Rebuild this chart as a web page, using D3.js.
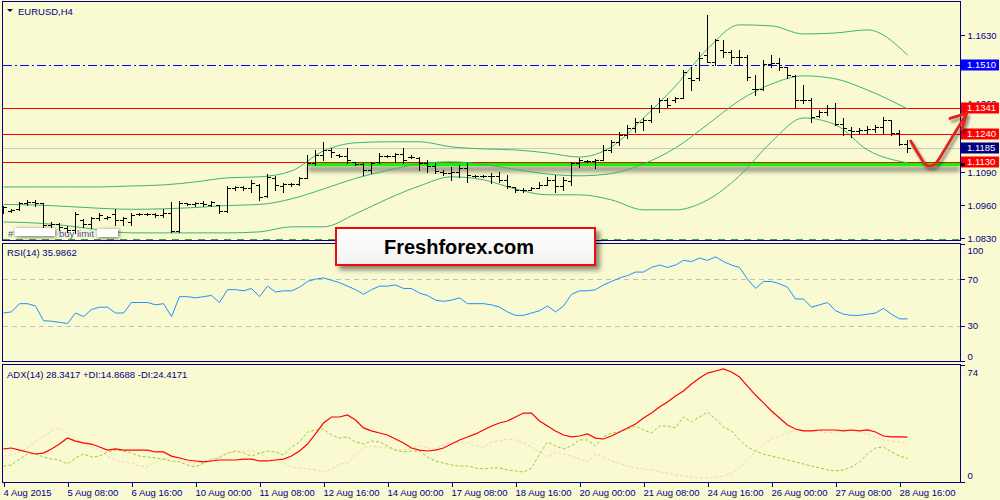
<!DOCTYPE html>
<html>
<head>
<meta charset="utf-8">
<script src="https://cdnjs.cloudflare.com/ajax/libs/d3/7.8.5/d3.min.js"></script>
<style>
  body { margin: 0; background: #fafad2; }
  svg { display: block; font-family: "Liberation Sans", Arial, sans-serif; }
</style>
</head>
<body>
<svg id="chart" width="1000" height="500"></svg>
<script>
// EURUSD H4, 4 Aug - 28 Aug 2015 (one entry per bar)
var timeLabels = ["4 Aug 2015", "5 Aug 08:00", "6 Aug 16:00", "10 Aug 00:00", "11 Aug 08:00",
  "12 Aug 16:00", "14 Aug 00:00", "17 Aug 08:00", "18 Aug 16:00", "20 Aug 00:00",
  "21 Aug 08:00", "24 Aug 16:00", "26 Aug 00:00", "27 Aug 08:00", "28 Aug 16:00"];
var timeTickBars = [0, 8, 16, 24, 32, 40, 48, 56, 64, 72, 80, 88, 96, 104, 112];

var opens = [1.0941,1.0937,1.0945,1.0968,1.0972,1.0968,1.0881,1.0885,1.0870,1.0862,
  1.0901,1.0885,1.0909,1.0909,1.0925,1.0901,1.0893,1.0925,1.0925,1.0925,
  1.0921,1.0929,1.0858,1.0968,1.0964,1.0968,1.0960,1.0960,1.0937,1.1027,
  1.1031,1.1027,1.1039,1.0996,1.1067,1.1035,1.1043,1.1043,1.1067,1.1126,
  1.1157,1.1177,1.1157,1.1153,1.1130,1.1122,1.1098,1.1130,1.1153,1.1153,
  1.1161,1.1149,1.1145,1.1126,1.1114,1.1090,1.1086,1.1090,1.1106,1.1075,
  1.1075,1.1075,1.1075,1.1059,1.1031,1.1019,1.1019,1.1027,1.1039,1.1059,
  1.1035,1.1055,1.1126,1.1134,1.1134,1.1138,1.1177,1.1209,1.1236,1.1264,
  1.1287,1.1295,1.1342,1.1374,1.1374,1.1382,1.1461,1.1461,1.1551,1.1524,
  1.1571,1.1563,1.1543,1.1543,1.1417,1.1417,1.1516,1.1520,1.1504,1.1469,
  1.1374,1.1374,1.1311,1.1327,1.1342,1.1279,1.1256,1.1252,1.1256,1.1260,
  1.1268,1.1295,1.1244,1.1201];
var highs = [1.0956,1.0945,1.0972,1.0980,1.0980,1.0968,1.0893,1.0889,1.0878,1.0933,
  1.0905,1.0913,1.0929,1.0917,1.0945,1.0913,1.0929,1.0929,1.0929,1.0929,
  1.0945,1.0972,1.0976,1.0968,1.0972,1.0976,1.0976,1.0960,1.1035,1.1035,
  1.1035,1.1059,1.1043,1.1082,1.1075,1.1047,1.1047,1.1071,1.1157,1.1177,
  1.1209,1.1185,1.1161,1.1185,1.1130,1.1126,1.1130,1.1165,1.1157,1.1165,
  1.1185,1.1157,1.1149,1.1138,1.1126,1.1098,1.1110,1.1118,1.1126,1.1078,
  1.1078,1.1086,1.1090,1.1078,1.1031,1.1027,1.1031,1.1051,1.1071,1.1078,
  1.1071,1.1130,1.1145,1.1138,1.1142,1.1197,1.1216,1.1248,1.1276,1.1303,
  1.1303,1.1354,1.1382,1.1382,1.1386,1.1492,1.1504,1.1563,1.1709,1.1614,
  1.1610,1.1571,1.1571,1.1551,1.1473,1.1532,1.1551,1.1539,1.1504,1.1473,
  1.1433,1.1382,1.1335,1.1354,1.1362,1.1303,1.1268,1.1264,1.1272,1.1276,
  1.1307,1.1295,1.1256,1.1216];
var lows = [1.0929,1.0933,1.0941,1.0960,1.0956,1.0874,1.0874,1.0862,1.0854,1.0850,
  1.0874,1.0870,1.0901,1.0905,1.0881,1.0881,1.0881,1.0921,1.0921,1.0913,
  1.0913,1.0854,1.0854,1.0960,1.0956,1.0956,1.0956,1.0929,1.0933,1.1019,
  1.1019,1.1012,1.0980,1.0992,1.1019,1.1012,1.1035,1.1039,1.1067,1.1118,
  1.1138,1.1149,1.1149,1.1126,1.1118,1.1078,1.1086,1.1126,1.1149,1.1130,
  1.1126,1.1145,1.1098,1.1090,1.1086,1.1078,1.1059,1.1071,1.1051,1.1071,
  1.1071,1.1047,1.1051,1.1027,1.1012,1.1012,1.1019,1.1027,1.1039,1.1012,
  1.1019,1.1039,1.1110,1.1130,1.1106,1.1138,1.1169,1.1197,1.1224,1.1248,
  1.1256,1.1287,1.1327,1.1346,1.1366,1.1382,1.1413,1.1453,1.1524,1.1512,
  1.1543,1.1520,1.1512,1.1453,1.1394,1.1413,1.1504,1.1492,1.1461,1.1342,
  1.1362,1.1287,1.1307,1.1315,1.1276,1.1236,1.1228,1.1244,1.1244,1.1248,
  1.1244,1.1236,1.1197,1.1169];
var closes = [1.0952,1.0941,1.0968,1.0972,1.0968,1.0881,1.0885,1.0874,1.0862,1.0925,
  1.0885,1.0909,1.0921,1.0913,1.0901,1.0909,1.0921,1.0925,1.0925,1.0921,
  1.0929,1.0858,1.0968,1.0964,1.0968,1.0964,1.0972,1.0937,1.1027,1.1031,
  1.1027,1.1047,1.0992,1.1071,1.1039,1.1043,1.1043,1.1067,1.1126,1.1157,
  1.1177,1.1169,1.1153,1.1138,1.1122,1.1098,1.1126,1.1153,1.1153,1.1161,
  1.1138,1.1149,1.1126,1.1114,1.1094,1.1086,1.1090,1.1106,1.1078,1.1075,
  1.1075,1.1075,1.1059,1.1035,1.1019,1.1019,1.1027,1.1039,1.1059,1.1035,
  1.1059,1.1126,1.1138,1.1134,1.1138,1.1177,1.1209,1.1236,1.1264,1.1287,
  1.1295,1.1342,1.1374,1.1354,1.1382,1.1484,1.1453,1.1539,1.1524,1.1610,
  1.1563,1.1543,1.1543,1.1465,1.1417,1.1516,1.1520,1.1504,1.1473,1.1374,
  1.1374,1.1307,1.1327,1.1342,1.1279,1.1264,1.1252,1.1256,1.1260,1.1268,
  1.1295,1.1244,1.1201,1.1185];

// Bollinger bands read at every 4th bar
var bbIndex = [0,4,8,12,16,20,24,28,32,36,40,44,48,52,56,60,64,68,72,76,80,84,88,92,96,100,104,108,113];
var bbUpper = [1.1031,1.1031,1.1031,1.1031,1.1035,1.1039,1.1051,1.1067,1.1071,1.1094,
  1.1173,1.1205,1.1209,1.1209,1.1189,1.1181,1.1177,1.1165,1.1149,1.1189,
  1.1303,1.1429,1.1575,1.1670,1.1666,1.1634,1.1638,1.1650,1.1551];
var bbMiddle = [1.0962,1.0960,1.0954,1.0947,1.0943,1.0945,1.0950,1.0958,1.0962,1.0984,
  1.1023,1.1065,1.1096,1.1122,1.1130,1.1120,1.1100,1.1082,1.1075,1.1084,
  1.1122,1.1185,1.1277,1.1372,1.1437,1.1469,1.1457,1.1413,1.1339];
var bbLower = [1.0893,1.0889,1.0878,1.0862,1.0850,1.0850,1.0850,1.0850,1.0854,1.0874,
  1.0874,1.0925,1.0984,1.1035,1.1071,1.1059,1.1023,1.1000,1.1000,1.0980,
  1.0941,1.0941,1.0980,1.1075,1.1209,1.1303,1.1276,1.1177,1.1126];

var rsi = [41,42,49,49,47,34.5,34,33,32,41, 38,44,46,46,41,41,50,50,50,48,
  49,38,55,55,54,55,56,50,61,61, 60,62,55,64,59,60,60,63,68,70,
  71,69,67,64,61,57,61,64,64,65, 62,62,58,56,52,51,52,54,49,49,
  49,48,46,42,39,39,41,43,47,42, 47,57,60,60,61,65,68,71,73,76,
  76,80,82,80,82,86,85,88,86,89, 85,82,80,70,62,68,68,66,63,53,
  53,46,48,50,43,40,39,39,40,41, 45,40,36,35.99];

var adx = [20.9,21.5,20.2,19.0,17.7,18.3,20.9,24.0,27.8,25.9, 24.7,24.0,22.1,20.2,20.9,20.2,20.2,20.2,20.2,19.0,
  19.0,16.4,15.2,13.9,13.3,12.7,13.3,13.9,13.9,13.9, 14.5,14.5,13.3,13.3,13.9,14.5,16.4,19.6,24.0,30.4,
  37.3,41.1,41.1,42.4,39.2,34.2,32.3,31.0,29.7,27.2, 24.7,21.5,20.2,19.6,20.2,21.5,24.0,26.6,28.5,30.4,
  32.9,35.4,37.3,38.6,41.1,43.6,43.6,38.6,35.4,32.3, 29.7,28.5,29.1,30.4,27.8,27.2,29.1,31.6,34.2,36.7,
  40.5,43.6,47.4,50.6,54.4,57.6,62.0,65.8,68.9,70.2, 71.5,69.6,66.4,60.7,55.0,50.0,44.9,40.5,36.1,33.5,
  32.3,32.3,32.9,32.9,32.9,32.3,32.9,32.3,32.9,31.6, 29.1,28.5,28.5,28.34];
var plusDI = [10.1,10.8,14.5,17.7,17.7,15.8,14.5,13.9,11.4,15.2, 17.7,15.8,16.4,19.0,20.2,19.6,18.3,16.4,15.8,15.2,
  14.5,13.3,12.7,10.8,9.5,12.0,13.9,15.2,18.3,19.6, 18.3,16.4,18.3,19.6,19.0,17.1,22.1,25.3,31.6,32.9,
  33.5,29.7,27.8,28.5,25.3,24.0,25.9,25.3,22.8,20.2, 19.0,19.6,19.6,15.8,13.3,12.0,10.8,10.1,10.1,8.9,
  8.2,8.9,8.9,7.6,7.0,6.3,8.9,17.7,25.3,22.8, 20.9,22.8,26.6,26.6,22.8,28.5,31.0,31.6,33.5,35.4,
  32.9,31.0,35.4,35.4,34.2,41.1,38.0,41.1,44.3,39.8, 34.8,32.3,26.6,22.1,19.6,17.7,16.4,15.2,13.9,12.7,
  11.4,10.1,8.9,7.6,7.0,7.6,9.5,12.7,17.7,21.5, 22.1,19.0,16.4,14.87];
var minusDI = [16.4,17.1,19.0,21.5,25.3,29.1,32.3,34.2,31.0,26.6, 24.0,22.1,20.2,16.4,13.9,12.7,12.0,10.1,10.1,12.0,
  14.5,15.8,14.5,12.7,12.0,12.7,14.5,16.4,18.3,19.0, 19.6,19.6,18.3,15.2,13.3,12.0,9.5,8.9,8.2,7.6,
  6.3,8.2,11.4,12.0,17.1,22.1,22.8,22.1,21.5,20.2, 20.2,21.5,22.8,21.5,20.9,23.4,25.3,24.7,24.7,22.8,
  22.1,25.3,25.9,27.2,26.6,24.7,22.1,19.0,15.8,19.0, 17.7,16.4,14.5,12.7,17.7,15.8,13.3,12.0,10.1,8.9,
  8.2,7.6,6.3,5.7,4.4,3.8,3.2,2.5,2.5,3.2, 3.8,5.7,8.9,13.9,19.6,24.0,27.2,29.1,31.0,32.9,
  32.9,31.6,32.3,31.0,31.6,32.9,32.9,31.6,30.4,28.5, 26.6,25.9,25.3,24.42];

var priceTicks = [1.1630, 1.1360, 1.1090, 1.0960, 1.0830];
var levelPrices = [1.1510, 1.1341, 1.1240, 1.1130];
var bidPrice = 1.1185;
var buyLimitPrice = 1.0826;
var supportPrice = 1.1130, supportFrom = 38;
// hand drawn arrow, in (bar, price)
var arrowPts = [[113.4,1.1212],[114.6,1.1149],[115.3,1.1118],[116.3,1.1118],[117.7,1.1181],[118.9,1.1244],[120.3,1.1315]];
var arrowHead = [[118.3,1.1301],[120.4,1.1321],[119.8,1.1258]];

var navy = "#000080";
var svg = d3.select("#chart");
svg.append("rect").attr("width", 1000).attr("height", 500).attr("fill", "#fafad2");

var x = d3.scaleLinear().domain([0, 119.5]).range([3.5, 959.5]);
var y = d3.scaleLinear().domain([1.0818, 1.1764]).range([241, 1]);
var yR = d3.scaleLinear().domain([0, 100]).range([361, 244]);
var yA = d3.scaleLinear().domain([0, 74]).range([482, 365]);

function px(v) { return Math.round(v) + 0.5; }

var defs = svg.append("defs");
function clip(id, y0, y1) {
  defs.append("clipPath").attr("id", id).append("rect")
    .attr("x", 3).attr("y", y0).attr("width", 957).attr("height", y1 - y0);
}
clip("cMain", 2, 240); clip("cRsi", 244, 361); clip("cAdx", 365, 482);
function shadow(id, dx, dy, sd, op) {
  defs.append("filter").attr("id", id).attr("filterUnits", "userSpaceOnUse")
      .attr("x", 0).attr("y", 0).attr("width", 1000).attr("height", 500)
    .append("feDropShadow").attr("dx", dx).attr("dy", dy).attr("stdDeviation", sd)
      .attr("flood-color", "#000").attr("flood-opacity", op);
}
shadow("shBox", 4, 4, 2.5, 0.45);
shadow("shArrow", 2, 3, 1.5, 0.45);
shadow("shGreen", 0, 5, 2.5, 0.55);
shadow("shWhite", 1, 1, 2, 0.6);

// ---------- main panel ----------
var gm = svg.append("g").attr("clip-path", "url(#cMain)");

gm.append("line").attr("x1", 3).attr("x2", 960)
  .attr("y1", px(y(buyLimitPrice))).attr("y2", px(y(buyLimitPrice)))
  .attr("stroke", "#33aa33").attr("stroke-dasharray", "7,6");

gm.append("line").attr("x1", 3).attr("x2", 960)
  .attr("y1", px(y(bidPrice))).attr("y2", px(y(bidPrice)))
  .attr("stroke", "#c8c8c8");

// support zone under the 1.1130 level
gm.append("rect")
  .attr("x", x(supportFrom)).attr("width", 960 - x(supportFrom))
  .attr("y", Math.round(y(supportPrice))).attr("height", 4)
  .attr("fill", "#00ff00")
  .attr("filter", "url(#shGreen)");

var levelColors = ["#0000ff", "#ff0000", "#ff0000", "#ff0000"];
gm.selectAll(".level")
  .data(levelPrices)
  .enter().append("line")
    .attr("class", "level")
    .attr("x1", 3).attr("x2", 960)
    .attr("y1", function(d) { return px(y(d)); })
    .attr("y2", function(d) { return px(y(d)); })
    .attr("stroke", function(d, i) { return levelColors[i]; })
    .attr("stroke-dasharray", function(d, i) { return i == 0 ? "9,3,2,3" : null; });

var bbLine = d3.line()
  .x(function(d, i) { return x(bbIndex[i]); })
  .y(function(d) { return y(d); })
  .curve(d3.curveMonotoneX);
[bbUpper, bbMiddle, bbLower].forEach(function(s) {
  gm.append("path").attr("d", bbLine(s))
    .attr("fill", "none").attr("stroke", "#3cb371").attr("stroke-width", 1);
});

gm.selectAll(".bar")
  .data(d3.range(opens.length))
  .enter().append("path")
    .attr("class", "bar")
    .attr("d", function(i) {
      var cx = x(i);
      return "M" + cx + "," + Math.round(y(highs[i])) + "V" + (Math.round(y(lows[i])) + 1) +
        "M" + (cx - 3.5) + "," + px(y(opens[i])) + "H" + cx +
        "M" + cx + "," + px(y(closes[i])) + "H" + (cx + 3.5);
    })
    .attr("stroke", "#000").attr("fill", "none").attr("shape-rendering", "crispEdges");

// order label (redacted ticket)
svg.append("text").attr("x", 8).attr("y", 237).attr("font-size", "9.5px")
  .attr("fill", "#4b4ba0").text("#");
svg.append("text").attr("x", 59).attr("y", 237).attr("font-size", "9.5px")
  .attr("fill", "#4b4ba0").text("buy limit");
svg.append("rect").attr("x", 15).attr("y", 228).attr("width", 40).attr("height", 8)
  .attr("fill", "#fff").attr("filter", "url(#shWhite)");
svg.append("rect").attr("x", 97).attr("y", 229).attr("width", 21).attr("height", 8)
  .attr("fill", "#fff").attr("filter", "url(#shWhite)");

// ---------- RSI panel ----------
var gr = svg.append("g").attr("clip-path", "url(#cRsi)");
gr.selectAll(".rsilvl")
  .data([70, 30])
  .enter().append("line")
    .attr("x1", 3).attr("x2", 960)
    .attr("y1", function(d) { return px(yR(d)); })
    .attr("y2", function(d) { return px(yR(d)); })
    .attr("stroke", "#c0c0c0").attr("stroke-dasharray", "5,4");
gr.append("path")
  .attr("d", d3.line().x(function(d, i) { return x(i); }).y(function(d) { return yR(d); })(rsi))
  .attr("fill", "none").attr("stroke", "#1e90ff").attr("stroke-width", 1);

// ---------- ADX panel ----------
var ga = svg.append("g").attr("clip-path", "url(#cAdx)");
var adxLine = d3.line().x(function(d, i) { return x(i); }).y(function(d) { return yA(d); });
ga.append("path").attr("d", adxLine(minusDI))
  .attr("fill", "none").attr("stroke", "#f5d3ad").attr("stroke-dasharray", "3,2");
ga.append("path").attr("d", adxLine(plusDI))
  .attr("fill", "none").attr("stroke", "#9acd32").attr("stroke-dasharray", "3,2");
ga.append("path").attr("d", adxLine(adx))
  .attr("fill", "none").attr("stroke", "#ff0000").attr("stroke-width", 1.2);

// ---------- frames ----------
[[1.5, 240.5], [243.5, 361.5], [364.5, 482.5]].forEach(function(p) {
  svg.append("rect").attr("x", 2.5).attr("y", p[0]).attr("width", 958).attr("height", p[1] - p[0])
    .attr("fill", "none").attr("stroke", navy).attr("shape-rendering", "crispEdges");
});

// ---------- axes ----------
function styleAxis(g) {
  g.select(".domain").remove();
  g.selectAll("line").attr("stroke", navy).attr("shape-rendering", "crispEdges");
  g.selectAll("text").attr("fill", navy).attr("font-size", "9.5px");
  g.attr("font-family", null).attr("font-size", null);
}

svg.append("g")
    .attr("transform", "translate(960.5,0)")
    .call(d3.axisRight(y).tickValues(priceTicks).tickSize(4).tickPadding(3).tickFormat(d3.format(".4f")))
    .call(styleAxis);

svg.append("g")
    .attr("transform", "translate(960.5,0)")
    .call(d3.axisRight(yR).tickValues([100, 70, 30, 0]).tickSize(4).tickPadding(3))
    .call(styleAxis)
  .selectAll("text")
    .attr("y", function(d) { return d == 100 ? 6 : (d == 0 ? -5 : 0); });

svg.append("g")
    .attr("transform", "translate(960.5,0)")
    .call(d3.axisRight(yA).tickValues([74, 0]).tickSize(4).tickPadding(3))
    .call(styleAxis)
  .selectAll("text")
    .attr("y", function(d) { return d == 74 ? 7 : -7; });

svg.append("g")
    .attr("transform", "translate(0,482.5)")
    .call(d3.axisBottom(x).tickValues(timeTickBars).tickSize(4).tickPadding(3)
      .tickFormat(function(d, i) { return timeLabels[i]; }))
    .call(styleAxis)
  .selectAll("text")
    .attr("text-anchor", "start").attr("x", -0.5);

// ---------- price tags ----------
var tags = levelPrices.slice(0, 3).concat([bidPrice, levelPrices[3]]);
var tagColors = ["#0000ff", "#ff0000", "#ff0000", navy, "#ff0000"];
var tg = svg.selectAll(".tag")
  .data(tags)
  .enter().append("g")
    .attr("class", "tag")
    .attr("transform", function(d) { return "translate(961," + Math.round(y(d)) + ")"; });
tg.append("rect").attr("x", 0).attr("y", -5.5).attr("width", 38).attr("height", 11)
  .attr("fill", function(d, i) { return tagColors[i]; });
tg.append("text").attr("x", 6).attr("y", 0).attr("dy", "0.34em")
  .attr("fill", "#fff").attr("font-size", "9.5px")
  .text(function(d) { return d3.format(".4f")(d); });
svg.append("rect").attr("x", 961).attr("y", Math.round(y(supportPrice)) + 1).attr("width", 4).attr("height", 3)
  .attr("fill", "#000");

// ---------- titles ----------
svg.append("path").attr("d", "M7,9L13,9L10,12Z").attr("fill", navy);
svg.append("text").attr("x", 18).attr("y", 14.5).attr("font-size", "9.5px").attr("fill", navy).text("EURUSD,H4");
svg.append("text").attr("x", 7).attr("y", 255.5).attr("font-size", "9.5px").attr("fill", navy).text("RSI(14) 35.9862");
svg.append("text").attr("x", 7).attr("y", 378).attr("font-size", "9.5px").attr("fill", navy)
  .text("ADX(14) 28.3417 +DI:14.8688 -DI:24.4171");

// ---------- banner ----------
var grad = defs.append("linearGradient").attr("id", "gBanner").attr("x1", 0).attr("y1", 0).attr("x2", 0).attr("y2", 1);
grad.append("stop").attr("offset", "0%").attr("stop-color", "#ffffff");
grad.append("stop").attr("offset", "100%").attr("stop-color", "#f2f2f2");
svg.append("rect").attr("x", 336).attr("y", 228).attr("width", 259).attr("height", 37)
  .attr("fill", "url(#gBanner)").attr("stroke", "#ee1111").attr("stroke-width", 2)
  .attr("filter", "url(#shBox)");
svg.append("text").attr("x", 384).attr("y", 254).attr("font-size", "20px").attr("font-weight", "bold")
  .attr("fill", "#000").text("Freshforex.com");

// ---------- arrow ----------
var ga2 = svg.append("g").attr("filter", "url(#shArrow)");
var arrowLine = d3.line().x(function(d) { return x(d[0]); }).y(function(d) { return y(d[1]); });
ga2.append("path").attr("d", arrowLine.curve(d3.curveCatmullRom)(arrowPts))
  .attr("fill", "none").attr("stroke", "#e3201b").attr("stroke-width", 2.8).attr("stroke-linecap", "round");
ga2.append("path").attr("d", d3.line().x(function(d) { return x(d[0]); }).y(function(d) { return y(d[1]); })(arrowHead))
  .attr("fill", "none").attr("stroke", "#e3201b").attr("stroke-width", 2.8)
  .attr("stroke-linecap", "round").attr("stroke-linejoin", "round");
</script>
</body>
</html>
